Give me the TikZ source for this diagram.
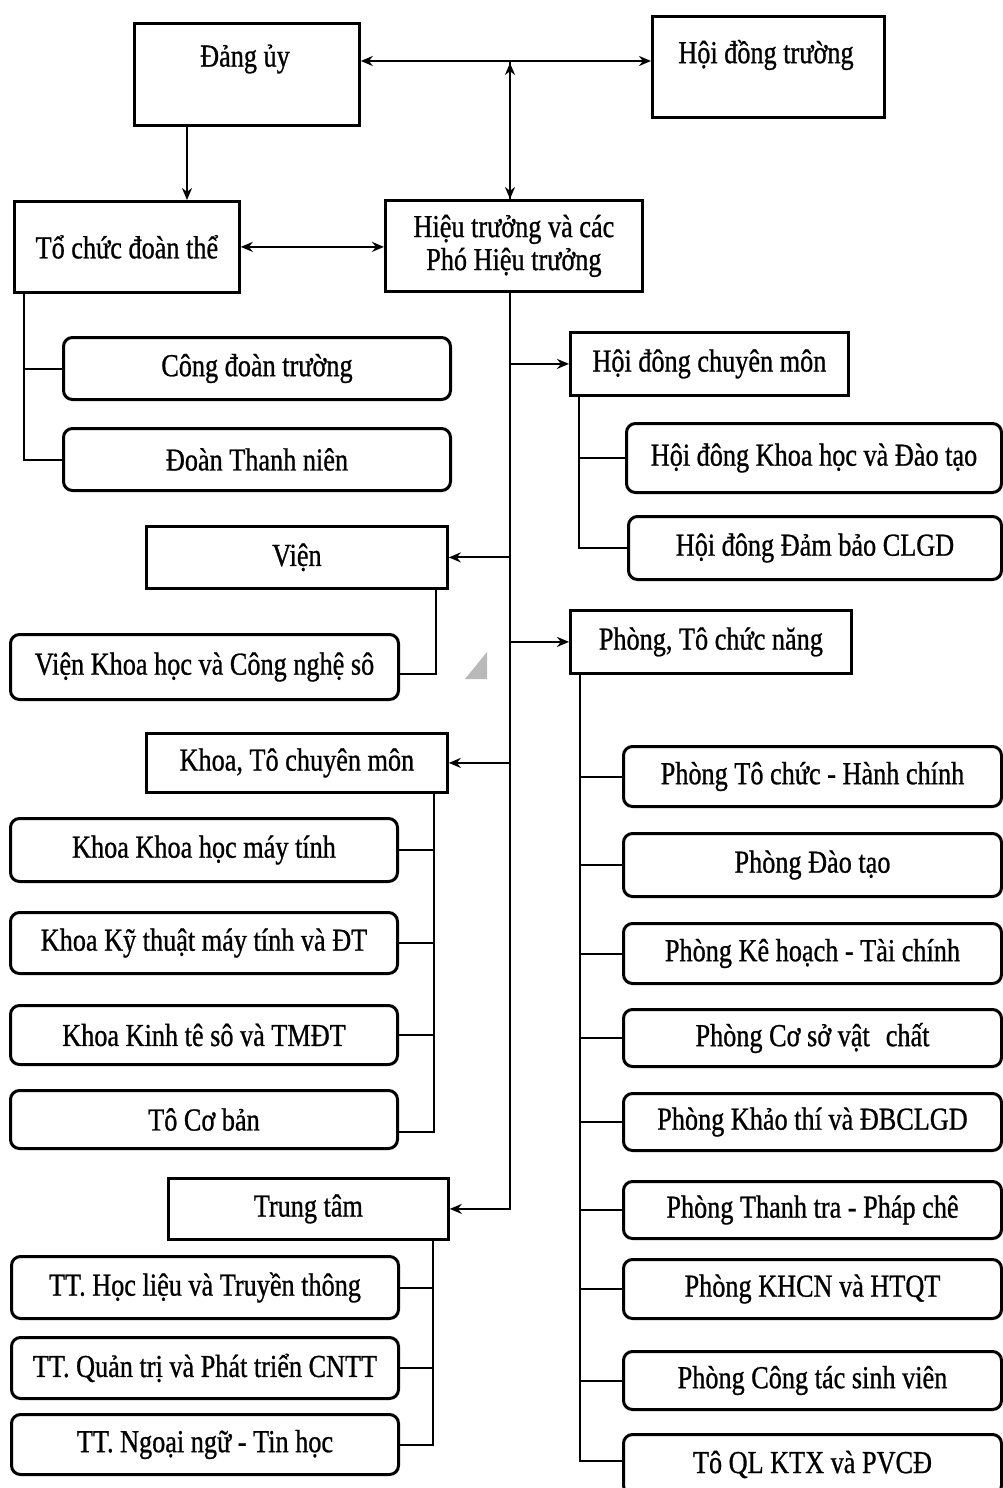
\documentclass[tikz,border=0pt]{standalone}
\usepackage{fontspec}
\setmainfont[FakeStretch=0.82,FakeBold=0.8]{Liberation Serif}
\usetikzlibrary{arrows.meta}
\begin{document}
\begin{tikzpicture}[x=1pt,y=-1pt,
 txt/.style={font=\fontsize{32pt}{33pt}\selectfont, align=center},
 sq/.style={txt, draw, line width=2.8pt, inner sep=0pt, anchor=north west},
 rd/.style={txt, draw, line width=3pt, rounded corners=9pt, inner sep=0pt, anchor=north west},
 conn/.style={line width=2pt},
 arr/.style={conn, -{Stealth[length=12pt,width=10pt]}},
 darr/.style={conn, {Stealth[length=12pt,width=10pt]}-{Stealth[length=12pt,width=10pt]}}]
\path[fill=white,use as bounding box] (0,0) rectangle (1002,1488);

% top level
\node[sq, minimum width=225pt, minimum height=102pt] (dang) at (133,22) {};
\node[txt] (dangt) at (245,59) {Đảng ủy};
\node[sq, minimum width=232pt, minimum height=101pt] (hdt) at (651,15) {};
\node[txt] (hdtt) at (766,55) {Hội đồng trường};
\node[sq, minimum width=225pt, minimum height=91pt] (tcdt) at (13,200) {Tổ chức đoàn thể};
\node[sq, minimum width=257pt, minimum height=91pt] (ht) at (384,199) {Hiệu trưởng và các\\Phó Hiệu trưởng};

% second level
\node[sq, minimum width=278pt, minimum height=63pt] (hdcm) at (569,331) {Hội đông chuyên môn};
\node[sq, minimum width=301pt, minimum height=62pt] (vien) at (145,525) {Viện};
\node[sq, minimum width=281pt, minimum height=63pt] (ptcn) at (569,609) {Phòng, Tô chức năng};
\node[sq, minimum width=301pt, minimum height=59pt] (khoa) at (145,732) {Khoa, Tô chuyên môn};
\node[sq, minimum width=280pt, minimum height=61pt] (tt) at (167,1177) {Trung tâm};

% rounded units
\node[rd, minimum width=387pt, minimum height=62pt] (cd) at (62,336) {Công đoàn trường};
\node[rd, minimum width=387pt, minimum height=62pt] (dtn) at (62,427) {Đoàn Thanh niên};
\node[rd, minimum width=375pt, minimum height=69pt] (hdkh) at (625,422) {Hội đông Khoa học và Đào tạo};
\node[rd, minimum width=373pt, minimum height=63pt] (hddb) at (627,515) {Hội đông Đảm bảo CLGD};
\node[rd, minimum width=388pt, minimum height=65pt] (vkh) at (9,633) {Viện Khoa học và Công nghệ sô};
\node[rd, minimum width=387pt, minimum height=63pt] (kkhmt) at (9,817) {Khoa Khoa học máy tính};
\node[rd, minimum width=387pt, minimum height=61pt] (kktmt) at (9,911) {Khoa Kỹ thuật máy tính và ĐT};
\node[rd, minimum width=387pt, minimum height=59pt] (kkt) at (9,1004) {Khoa Kinh tê sô và TMĐT};
\node[rd, minimum width=387pt, minimum height=58pt] (tcb) at (9,1089) {Tô Cơ bản};
\node[rd, minimum width=387pt, minimum height=62pt] (tthl) at (10,1255) {TT. Học liệu và Truyền thông};
\node[rd, minimum width=387pt, minimum height=61pt] (ttqt) at (10,1336) {TT. Quản trị và Phát triển CNTT};
\node[rd, minimum width=387pt, minimum height=60pt] (ttnn) at (10,1413) {TT. Ngoại ngữ - Tin học};
\node[rd, minimum width=378pt, minimum height=60pt] (p1) at (622,745) {Phòng Tô chức - Hành chính};
\node[rd, minimum width=378pt, minimum height=63pt] (p2) at (622,832) {Phòng Đào tạo};
\node[rd, minimum width=378pt, minimum height=60pt] (p3) at (622,922) {Phòng Kê hoạch - Tài chính};
\node[rd, minimum width=378pt, minimum height=57pt] (p4) at (622,1008) {Phòng Cơ sở vật\hspace{0.5em}chất};
\node[rd, minimum width=378pt, minimum height=57pt] (p5) at (622,1092) {Phòng Khảo thí và ĐBCLGD};
\node[rd, minimum width=378pt, minimum height=57pt] (p6) at (622,1180) {Phòng Thanh tra - Pháp chê};
\node[rd, minimum width=378pt, minimum height=59pt] (p7) at (622,1258) {Phòng KHCN và HTQT};
\node[rd, minimum width=378pt, minimum height=58pt] (p8) at (622,1350) {Phòng Công tác sinh viên};
\node[rd, minimum width=378pt, minimum height=60pt] (p9) at (622,1433) {Tô QL KTX và PVCĐ};

% helper coordinates
\coordinate (top) at (510,61);
\coordinate (c1) at (187,0);
\coordinate (lt) at (24,0);
\coordinate (mt) at (510,0);
\coordinate (r1) at (579,0);
\coordinate (v1) at (436,0);
\coordinate (k1) at (434,0);
\coordinate (t1) at (433,0);
\coordinate (p0) at (580,0);

% top connectors
\draw[darr] (dang.east |- top) -- (hdt.west |- top);
\draw[conn] ([yshift=-1pt]top) -- (top |- ht.north);
\draw[conn, -{Stealth[length=12pt,width=10pt]}] ([yshift=-14pt]top) -- ([yshift=-2pt]top);
\draw[conn, -{Stealth[length=12pt,width=10pt]}] ([yshift=12pt]top |- ht.north) -- (top |- ht.north);
\draw[arr] (dang.south -| c1) -- (tcdt.north -| c1);
\draw[darr] (tcdt.east) -- (tcdt.east -| ht.west);

% Tổ chức đoàn thể branch
\draw[conn] (tcdt.south -| lt) |- (dtn.west);
\draw[conn] (lt |- cd.west) -- (cd.west);

% main trunk
\draw[arr] (ht.south -| mt) |- (tt.east);
\draw[arr] (mt |- hdcm.west) -- (hdcm.west);
\draw[arr] (mt |- vien.east) -- (vien.east);
\draw[arr] (mt |- ptcn.west) -- (ptcn.west);
\draw[arr] (mt |- khoa.east) -- (khoa.east);

% Hội đồng chuyên môn
\draw[conn] (hdcm.south -| r1) |- (hddb.west);
\draw[conn] (r1 |- hdkh.west) -- (hdkh.west);

% Viện
\draw[conn] (vien.south -| v1) |- ([yshift=-7pt]vkh.east);

% Khoa
\draw[conn] (khoa.south -| k1) |- ([yshift=-12pt]tcb.east);
\draw[conn] (k1 |- kkhmt.east) -- (kkhmt.east);
\draw[conn] (k1 |- kktmt.east) -- (kktmt.east);
\draw[conn] (k1 |- kkt.east) -- (kkt.east);

% Trung tâm
\draw[conn] (tt.south -| t1) |- (ttnn.east);
\draw[conn] (t1 |- tthl.east) -- (tthl.east);
\draw[conn] (t1 |- ttqt.east) -- (ttqt.east);

% Phòng
\draw[conn] (ptcn.south -| p0) |- ([yshift=4pt]p9.west);
\foreach \n in {p1,p2,p3,p4,p5,p6,p7,p8}
  \draw[conn] (p0 |- \n.west) -- (\n.west);

% grey corner mark
\fill[gray!55] (465,679) -- (487,652) -- (487,679) -- cycle;
\end{tikzpicture}
\end{document}
